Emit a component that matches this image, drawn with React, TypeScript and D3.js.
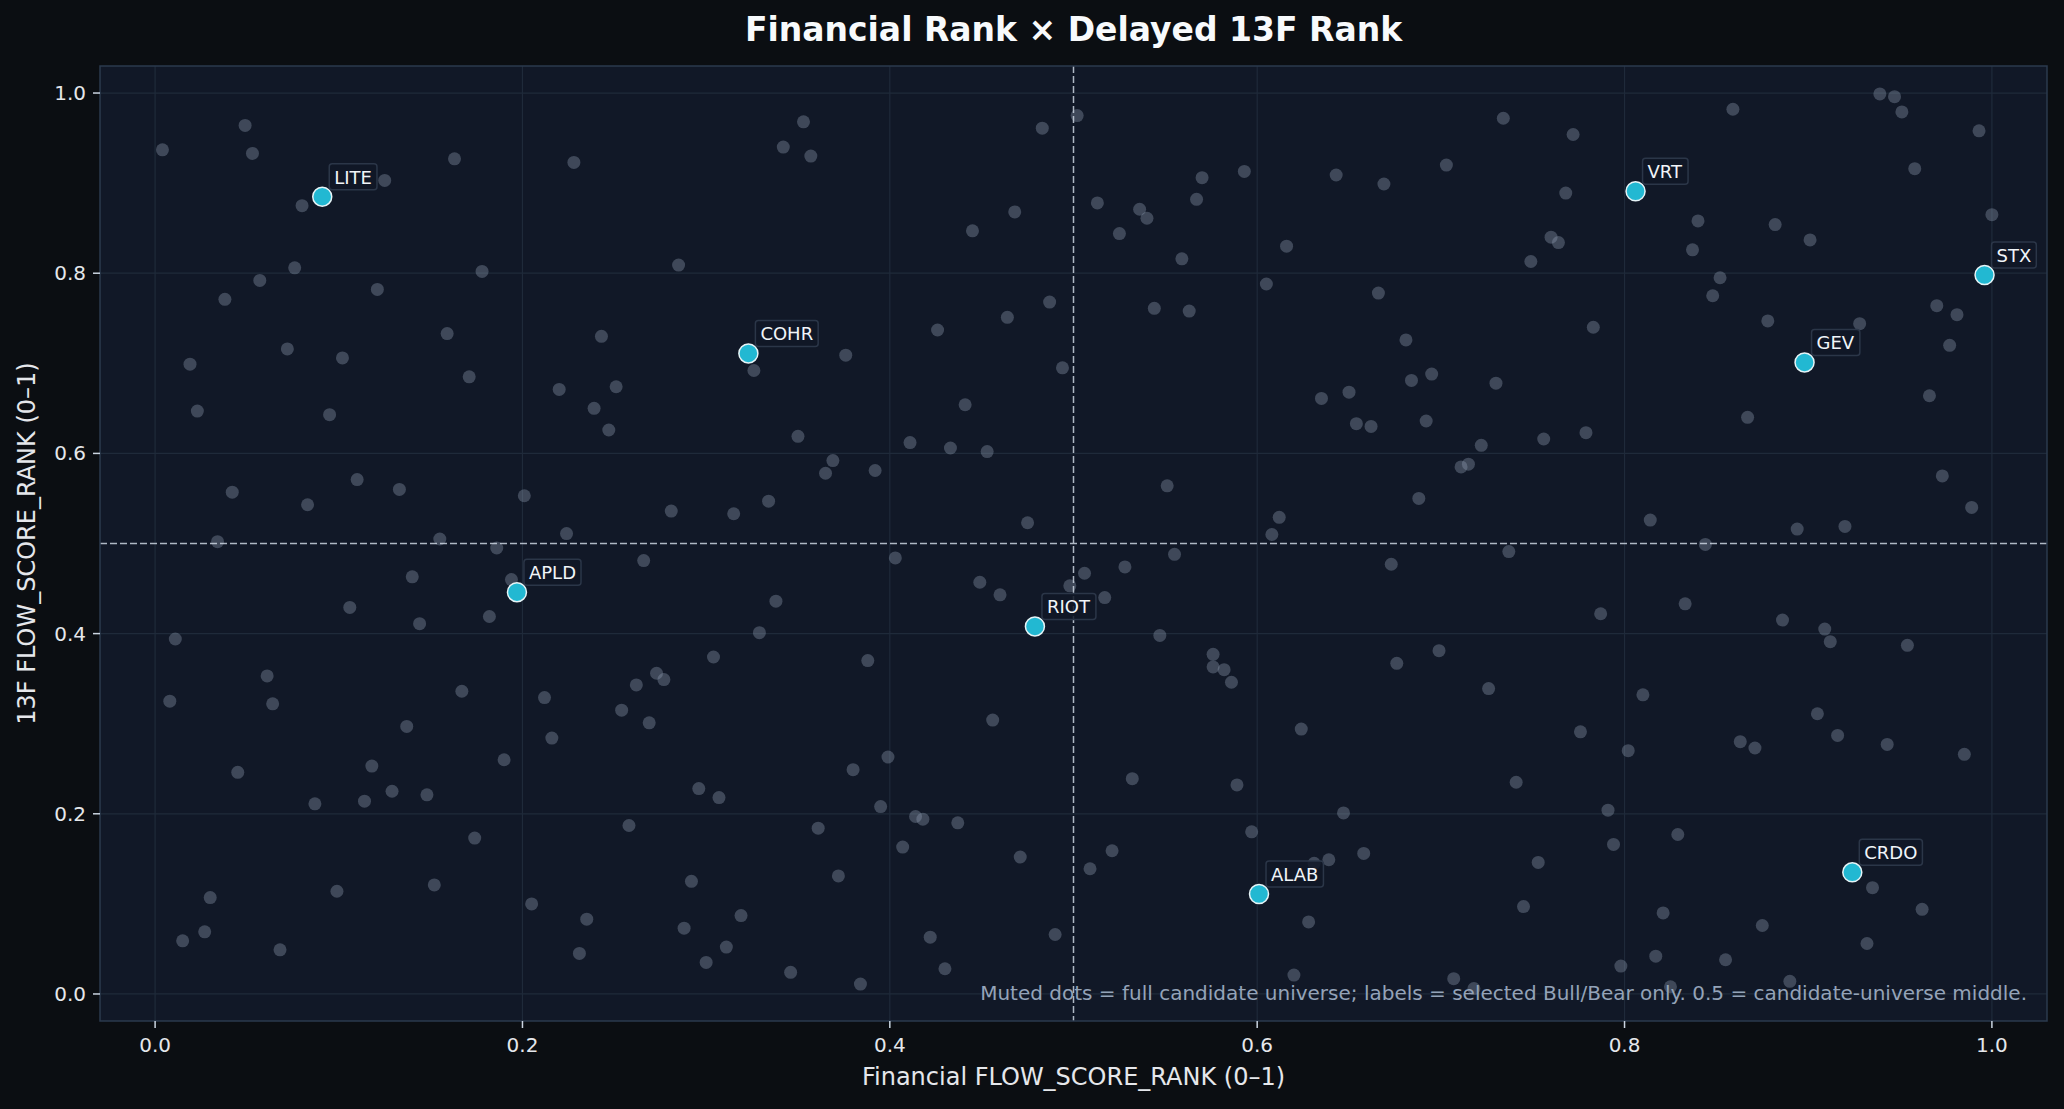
import { useEffect, useRef } from 'react'
import * as d3 from 'd3'

// Full candidate universe (muted dots): Financial rank, 13F rank
const UNIVERSE_X = [
  0.049, 0.004, 0.053, 0.08, 0.125, 0.163, 0.228, 0.076, 0.057, 0.038, 0.121, 0.178, 0.285, 0.159, 0.243, 0.326,
  0.072, 0.102, 0.019, 0.171, 0.22, 0.251, 0.239, 0.247, 0.023, 0.095, 0.042, 0.11, 0.133, 0.083, 0.201, 0.281,
  0.315, 0.034, 0.155, 0.224, 0.186, 0.266, 0.14, 0.194, 0.106, 0.144, 0.182, 0.011, 0.329, 0.304, 0.061, 0.008,
  0.064, 0.167, 0.212, 0.273, 0.277, 0.262, 0.254, 0.269, 0.137, 0.216, 0.19, 0.118, 0.045, 0.129, 0.148, 0.114,
  0.087, 0.296, 0.307, 0.258, 0.174, 0.292, 0.152, 0.099, 0.03, 0.205, 0.235, 0.319, 0.288, 0.027, 0.015, 0.068,
  0.231, 0.311, 0.3, 0.353, 0.342, 0.357, 0.483, 0.502, 0.468, 0.445, 0.513, 0.536, 0.54, 0.525, 0.57, 0.593,
  0.567, 0.559, 0.616, 0.643, 0.669, 0.605, 0.666, 0.487, 0.464, 0.544, 0.563, 0.426, 0.376, 0.494, 0.441, 0.35,
  0.411, 0.433, 0.453, 0.635, 0.65, 0.654, 0.662, 0.369, 0.365, 0.392, 0.551, 0.334, 0.475, 0.612, 0.608, 0.403,
  0.555, 0.673, 0.506, 0.528, 0.498, 0.517, 0.449, 0.46, 0.338, 0.547, 0.388, 0.576, 0.576, 0.582, 0.586, 0.676,
  0.456, 0.624, 0.399, 0.38, 0.532, 0.589, 0.395, 0.414, 0.418, 0.437, 0.361, 0.407, 0.647, 0.597, 0.521, 0.471,
  0.509, 0.372, 0.639, 0.631, 0.658, 0.628, 0.422, 0.49, 0.346, 0.43, 0.384, 0.62, 0.939, 0.947, 0.951, 0.859,
  0.734, 0.772, 0.993, 0.703, 0.768, 0.958, 0.84, 0.882, 0.901, 1.0, 0.837, 0.76, 0.764, 0.749, 0.852, 0.848,
  0.97, 0.981, 0.878, 0.928, 0.783, 0.681, 0.977, 0.695, 0.684, 0.73, 0.966, 0.692, 0.867, 0.722, 0.756, 0.779,
  0.711, 0.715, 0.688, 0.973, 0.989, 0.814, 0.894, 0.92, 0.844, 0.737, 0.833, 0.787, 0.886, 0.909, 0.912, 0.954,
  0.699, 0.726, 0.81, 0.905, 0.776, 0.802, 0.863, 0.871, 0.916, 0.943, 0.985, 0.741, 0.791, 0.829, 0.794, 0.753,
  0.935, 0.962, 0.745, 0.821, 0.875, 0.932, 0.817, 0.855, 0.798, 0.707, 0.718, 0.825, 0.89,
]
const UNIVERSE_Y = [
  0.964, 0.937, 0.933, 0.875, 0.903, 0.927, 0.923, 0.806, 0.792, 0.771, 0.782, 0.802, 0.809, 0.733, 0.73, 0.692,
  0.716, 0.706, 0.699, 0.685, 0.671, 0.674, 0.65, 0.626, 0.647, 0.643, 0.557, 0.571, 0.56, 0.543, 0.553, 0.536,
  0.533, 0.502, 0.505, 0.511, 0.495, 0.481, 0.463, 0.46, 0.429, 0.411, 0.419, 0.394, 0.401, 0.374, 0.353, 0.325,
  0.322, 0.336, 0.329, 0.356, 0.349, 0.343, 0.315, 0.301, 0.297, 0.284, 0.26, 0.253, 0.246, 0.225, 0.221, 0.214,
  0.211, 0.228, 0.218, 0.187, 0.173, 0.125, 0.121, 0.114, 0.107, 0.1, 0.083, 0.087, 0.073, 0.069, 0.059, 0.049,
  0.045, 0.052, 0.035, 0.968, 0.94, 0.93, 0.961, 0.975, 0.868, 0.847, 0.878, 0.871, 0.861, 0.844, 0.906, 0.913,
  0.882, 0.816, 0.83, 0.909, 0.899, 0.788, 0.778, 0.768, 0.751, 0.761, 0.758, 0.737, 0.709, 0.695, 0.654, 0.619,
  0.612, 0.606, 0.602, 0.661, 0.668, 0.633, 0.63, 0.592, 0.578, 0.581, 0.564, 0.547, 0.523, 0.529, 0.51, 0.484,
  0.488, 0.477, 0.467, 0.474, 0.453, 0.44, 0.457, 0.443, 0.436, 0.398, 0.37, 0.377, 0.363, 0.36, 0.346, 0.367,
  0.304, 0.294, 0.263, 0.249, 0.239, 0.232, 0.208, 0.197, 0.194, 0.19, 0.184, 0.163, 0.201, 0.18, 0.159, 0.152,
  0.139, 0.131, 0.149, 0.145, 0.156, 0.08, 0.063, 0.066, 0.024, 0.028, 0.011, 0.021, 0.999, 0.996, 0.979, 0.982,
  0.972, 0.954, 0.958, 0.92, 0.889, 0.916, 0.858, 0.854, 0.837, 0.865, 0.826, 0.84, 0.834, 0.813, 0.795, 0.775,
  0.764, 0.754, 0.747, 0.744, 0.74, 0.726, 0.72, 0.688, 0.681, 0.678, 0.664, 0.636, 0.64, 0.609, 0.616, 0.623,
  0.585, 0.588, 0.55, 0.575, 0.54, 0.526, 0.516, 0.519, 0.499, 0.491, 0.433, 0.422, 0.415, 0.405, 0.391, 0.387,
  0.381, 0.339, 0.332, 0.311, 0.291, 0.27, 0.28, 0.273, 0.287, 0.277, 0.266, 0.235, 0.204, 0.177, 0.166, 0.146,
  0.118, 0.094, 0.097, 0.09, 0.076, 0.056, 0.042, 0.038, 0.031, 0.017, 0.006, 0.008, 0.014,
]

// Selected Bull/Bear names
const SELECTED_NAMES = ['LITE', 'COHR', 'APLD', 'RIOT', 'ALAB', 'VRT', 'GEV', 'STX', 'CRDO']
const SELECTED_X = [0.091, 0.323, 0.197, 0.479, 0.601, 0.806, 0.898, 0.996, 0.924]
const SELECTED_Y = [0.885, 0.711, 0.446, 0.408, 0.111, 0.891, 0.701, 0.798, 0.135]

const TICKS = [0, 0.2, 0.4, 0.6, 0.8, 1.0]

const WIDTH = 2064
const HEIGHT = 1109
const FONT = '"DejaVu Sans", sans-serif'

export default function App() {
  const svgRef = useRef<SVGSVGElement>(null)

  useEffect(() => {
    if (!svgRef.current) return
    const svg = d3.select(svgRef.current)
    svg.selectAll('*').remove()

    const left = 100
    const right = 2047
    const top = 66
    const bottom = 1021

    const x = d3.scaleLinear([-0.03, 1.03], [left, right])
    const y = d3.scaleLinear([-0.03, 1.03], [bottom, top])

    svg.append('rect').attr('width', WIDTH).attr('height', HEIGHT).attr('fill', '#0b0e12')
    svg
      .append('rect')
      .attr('x', left)
      .attr('y', top)
      .attr('width', right - left)
      .attr('height', bottom - top)
      .attr('fill', '#111827')

    // Gridlines
    const grid = svg.append('g').attr('stroke', '#1f2a3a').attr('stroke-width', 1.2)
    grid
      .selectAll('line.gx')
      .data(TICKS)
      .join('line')
      .attr('x1', (d) => x(d))
      .attr('x2', (d) => x(d))
      .attr('y1', top)
      .attr('y2', bottom)
    grid
      .selectAll('line.gy')
      .data(TICKS)
      .join('line')
      .attr('x1', left)
      .attr('x2', right)
      .attr('y1', (d) => y(d))
      .attr('y2', (d) => y(d))

    // Universe dots
    svg
      .append('g')
      .selectAll('circle')
      .data(d3.range(UNIVERSE_X.length))
      .join('circle')
      .attr('cx', (i) => x(UNIVERSE_X[i]))
      .attr('cy', (i) => y(UNIVERSE_Y[i]))
      .attr('r', 6.5)
      .attr('fill', '#94a3b8')
      .attr('fill-opacity', 0.35)

    // Midlines
    svg
      .append('line')
      .attr('x1', x(0.5))
      .attr('x2', x(0.5))
      .attr('y1', top)
      .attr('y2', bottom)
      .attr('stroke', '#cbd5e1')
      .attr('stroke-opacity', 0.85)
      .attr('stroke-width', 1.5)
      .attr('stroke-dasharray', '7,3')
    svg
      .append('line')
      .attr('x1', left)
      .attr('x2', right)
      .attr('y1', y(0.5))
      .attr('y2', y(0.5))
      .attr('stroke', '#cbd5e1')
      .attr('stroke-opacity', 0.85)
      .attr('stroke-width', 1.5)
      .attr('stroke-dasharray', '7,3')

    // Selected dots + labels
    const sel = svg.append('g')
    sel
      .selectAll('circle')
      .data(d3.range(SELECTED_NAMES.length))
      .join('circle')
      .attr('cx', (i) => x(SELECTED_X[i]))
      .attr('cy', (i) => y(SELECTED_Y[i]))
      .attr('r', 9.5)
      .attr('fill', '#22b8d2')
      .attr('stroke', '#e6f4f7')
      .attr('stroke-width', 1.5)

    SELECTED_NAMES.forEach((name, i) => {
      const cx = x(SELECTED_X[i])
      const cy = y(SELECTED_Y[i])
      const g = sel.append('g')
      const box = g.append('rect')
      const t = g
        .append('text')
        .attr('x', cx + 12)
        .attr('y', cy - 13)
        .attr('fill', '#f1f5f9')
        .attr('font-family', FONT)
        .attr('font-size', 18)
        .text(name)
      const bb = (t.node() as SVGTextElement).getBBox()
      box
        .attr('x', bb.x - 5)
        .attr('y', bb.y - 3)
        .attr('width', bb.width + 10)
        .attr('height', bb.height + 5)
        .attr('rx', 3)
        .attr('fill', '#111827')
        .attr('fill-opacity', 0.85)
        .attr('stroke', '#2b3648')
        .attr('stroke-width', 1.5)
    })

    // Frame
    svg
      .append('rect')
      .attr('x', left)
      .attr('y', top)
      .attr('width', right - left)
      .attr('height', bottom - top)
      .attr('fill', 'none')
      .attr('stroke', '#2b3a4e')
      .attr('stroke-width', 1.5)

    // Ticks
    const ticks = svg.append('g').attr('stroke', '#cbd5e1').attr('stroke-width', 1.5)
    ticks
      .selectAll('line.tx')
      .data(TICKS)
      .join('line')
      .attr('x1', (d) => x(d))
      .attr('x2', (d) => x(d))
      .attr('y1', bottom)
      .attr('y2', bottom + 7)
    ticks
      .selectAll('line.ty')
      .data(TICKS)
      .join('line')
      .attr('x1', left - 7)
      .attr('x2', left)
      .attr('y1', (d) => y(d))
      .attr('y2', (d) => y(d))

    const fmt = d3.format('.1f')
    svg
      .append('g')
      .selectAll('text')
      .data(TICKS)
      .join('text')
      .attr('x', (d) => x(d))
      .attr('y', bottom + 31)
      .attr('text-anchor', 'middle')
      .attr('fill', '#e5e7eb')
      .attr('font-family', FONT)
      .attr('font-size', 20)
      .text((d) => fmt(d))
    svg
      .append('g')
      .selectAll('text')
      .data(TICKS)
      .join('text')
      .attr('x', left - 14)
      .attr('y', (d) => y(d) + 7)
      .attr('text-anchor', 'end')
      .attr('fill', '#e5e7eb')
      .attr('font-family', FONT)
      .attr('font-size', 20)
      .text((d) => fmt(d))

    // Axis labels
    svg
      .append('text')
      .attr('x', (left + right) / 2)
      .attr('y', 1085)
      .attr('text-anchor', 'middle')
      .attr('fill', '#e5e7eb')
      .attr('font-family', FONT)
      .attr('font-size', 24)
      .text('Financial FLOW_SCORE_RANK (0–1)')
    svg
      .append('text')
      .attr('transform', `translate(35,${(top + bottom) / 2}) rotate(-90)`)
      .attr('text-anchor', 'middle')
      .attr('fill', '#e5e7eb')
      .attr('font-family', FONT)
      .attr('font-size', 24)
      .text('13F FLOW_SCORE_RANK (0–1)')

    // Title
    svg
      .append('text')
      .attr('x', (left + right) / 2)
      .attr('y', 41)
      .attr('text-anchor', 'middle')
      .attr('fill', '#f8fafc')
      .attr('font-family', FONT)
      .attr('font-weight', 'bold')
      .attr('font-size', 33)
      .text('Financial Rank × Delayed 13F Rank')

    // Footnote
    svg
      .append('text')
      .attr('x', right - 20)
      .attr('y', 1000)
      .attr('text-anchor', 'end')
      .attr('fill', '#94a3b8')
      .attr('font-family', FONT)
      .attr('font-size', 20)
      .text('Muted dots = full candidate universe; labels = selected Bull/Bear only. 0.5 = candidate-universe middle.')
  }, [])

  return (
    <svg
      ref={svgRef}
      width={WIDTH}
      height={HEIGHT}
      style={{ position: 'absolute', left: 0, top: 0, display: 'block' }}
    />
  )
}
